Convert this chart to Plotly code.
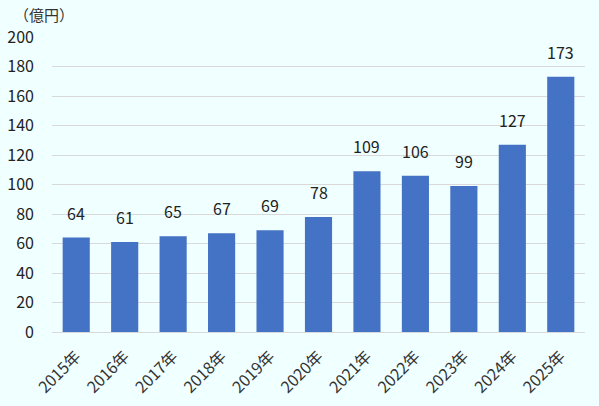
import plotly.graph_objects as go

years = ["2015年", "2016年", "2017年", "2018年", "2019年", "2020年",
         "2021年", "2022年", "2023年", "2024年", "2025年"]
values = [64, 61, 65, 67, 69, 78, 109, 106, 99, 127, 173]
y_ticks = [0, 20, 40, 60, 80, 100, 120, 140, 160, 180, 200]

FONT = "Noto Sans CJK JP"

fig = go.Figure(go.Bar(
    x=years, y=values,
    marker=dict(color="#4472C4", line=dict(width=0)),
    hoverinfo="x+y",
))

annotations = [dict(x=yr, y=v, text=str(v), xref="x", yref="y",
                    showarrow=False, yanchor="bottom", yshift=11,
                    font=dict(family=FONT, size=16, color="#222222"))
               for yr, v in zip(years, values)]
annotations.append(dict(text="（億円）", xref="paper", yref="paper",
                        x=-0.075, y=1.035, xanchor="left", yanchor="bottom",
                        showarrow=False,
                        font=dict(family=FONT, size=15, color="#333333")))

fig.update_layout(
    width=599, height=406,
    margin=dict(l=52, r=14, t=37, b=74),
    paper_bgcolor="#F0FFFF",
    plot_bgcolor="#F0FFFF",
    bargap=0.44,
    showlegend=False,
    font=dict(family=FONT, size=15, color="#222222"),
    xaxis=dict(tickangle=-45, showgrid=False, showline=False,
               ticks="", automargin=False, ticklabelstandoff=11,
               tickfont=dict(family=FONT, size=16, color="#333333")),
    yaxis=dict(range=[0, 200], tickvals=y_ticks, showgrid=True,
               gridcolor="#D9D9D9", gridwidth=1, zeroline=True,
               zerolinecolor="#D9D9D9", zerolinewidth=1, ticks="",
               automargin=False, ticklabelstandoff=17,
               tickfont=dict(family=FONT, size=16, color="#222222")),
    annotations=annotations,
)

fig.write_html("out.html")
